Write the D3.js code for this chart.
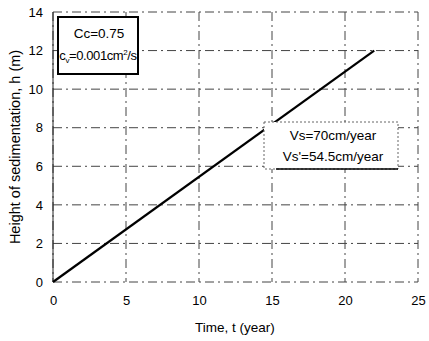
<!DOCTYPE html>
<html><head><meta charset="utf-8">
<script src="https://cdn.jsdelivr.net/npm/d3@7"></script>
<style>body{margin:0;background:#fff}svg{display:block}text{font-family:"Liberation Sans",Arial,sans-serif}</style>
</head><body>
<svg id="c" width="429" height="341"></svg>
<script>
const timeYears = [0, 22];
const heightM = [0, 12];
const xTicks = [0, 5, 10, 15, 20, 25];
const yTicks = [0, 2, 4, 6, 8, 10, 12, 14];
const box1 = ["Cc=0.75", "cv"];
const box2 = ["Vs=70cm/year", "Vs'=54.5cm/year"];

const svg = d3.select("#c");
const L = 53, R = 418, T = 12, B = 282;
const x = d3.scaleLinear().domain([0, 25]).range([L, R]);
const y = d3.scaleLinear().domain([0, 14]).range([B, T]);

const grid = svg.append("g").attr("stroke", "#444").attr("stroke-width", 1)
  .attr("stroke-dasharray", "9,4,2,4").attr("fill", "none");
xTicks.forEach(v => grid.append("line").attr("x1", x(v)).attr("x2", x(v)).attr("y1", T).attr("y2", B));
yTicks.forEach(v => grid.append("line").attr("x1", L).attr("x2", R).attr("y1", y(v)).attr("y2", y(v)));

const xa = svg.append("g").attr("transform", `translate(0,${B})`)
  .call(d3.axisBottom(x).tickValues(xTicks).tickSize(0).tickPadding(14));
const ya = svg.append("g").attr("transform", `translate(${L},0)`)
  .call(d3.axisLeft(y).tickValues(yTicks).tickSize(0).tickPadding(10));
[xa, ya].forEach(a => { a.select(".domain").remove(); a.selectAll("text").attr("font-size", 13).attr("fill", "#000").attr("font-family", '"Liberation Sans",Arial,sans-serif'); });
svg.append("line").attr("x1", L).attr("x2", L).attr("y1", T).attr("y2", B).attr("stroke", "#222").attr("stroke-width", 1);

const line = d3.line().x((d, i) => x(timeYears[i])).y(d => y(d));
svg.append("path").datum(heightM).attr("d", line).attr("fill", "none").attr("stroke", "#000").attr("stroke-width", 2.2);

svg.append("text").attr("x", 235).attr("y", 332).attr("text-anchor", "middle").attr("font-size", 13.5).text("Time, t (year)");
svg.append("text").attr("transform", `translate(20,${(T + B) / 2}) rotate(-90)`).attr("text-anchor", "middle").attr("font-size", 14.5).text("Height of sedimentation, h (m)");

svg.append("rect").attr("x", 58).attr("y", 17).attr("width", 80).attr("height", 57).attr("fill", "#fff").attr("stroke", "#000").attr("stroke-width", 2);
svg.append("text").attr("x", 99).attr("y", 38).attr("text-anchor", "middle").attr("font-size", 13.5).text(box1[0]);
const t1 = svg.append("text").attr("x", 98).attr("y", 60).attr("text-anchor", "middle").attr("font-size", 13).attr("letter-spacing", -0.4);
t1.append("tspan").text("c");
t1.append("tspan").attr("font-size", 8).attr("dy", 3).text("v");
t1.append("tspan").attr("dy", -3).text("=0.001cm");
t1.append("tspan").attr("font-size", 8).attr("dy", -5).text("2");
t1.append("tspan").attr("dy", 5).text("/s");

svg.append("rect").attr("x", 264).attr("y", 122).attr("width", 134).attr("height", 47).attr("fill", "#fff").attr("stroke", "#666").attr("stroke-width", 1).attr("stroke-dasharray", "2,2");
svg.append("line").attr("x1", 276).attr("x2", 398).attr("y1", 169).attr("y2", 169).attr("stroke", "#000").attr("stroke-width", 1.5);
svg.append("text").attr("x", 333).attr("y", 140).attr("text-anchor", "middle").attr("font-size", 13.5).text(box2[0]);
svg.append("text").attr("x", 333).attr("y", 161).attr("text-anchor", "middle").attr("font-size", 13.5).text(box2[1]);
</script>
</body></html>
